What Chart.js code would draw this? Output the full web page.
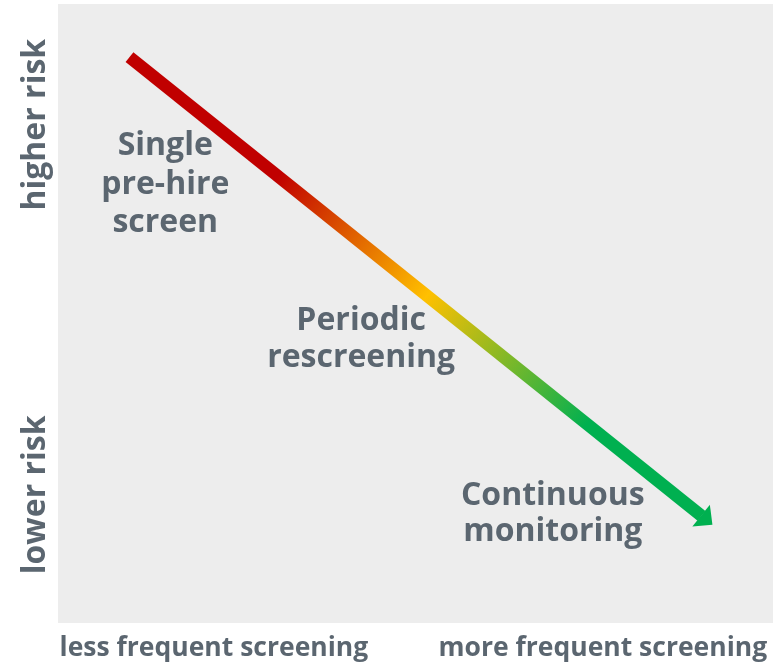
<!DOCTYPE html>
<html>
<head>
<meta charset="utf-8">
<script src="https://cdn.jsdelivr.net/npm/chart.js@4/dist/chart.umd.min.js"></script>
<style>
  html, body { margin: 0; padding: 0; background: #ffffff; }
  #wrap { width: 773px; height: 663px; }
</style>
</head>
<body>
<div id="wrap"><canvas id="c" width="773" height="663"></canvas></div>
<script>
// ---- data ----
const riskX = [1.0, 9.0];          // screening frequency (start, arrow base)
const riskY = [9.14, 1.73];        // risk level
const stageNames = [['Single', 'pre-hire', 'screen'], ['Periodic', 'rescreening'], ['Continuous', 'monitoring']];
const stageX = [1.50, 4.24, 6.92];
const stageY = [7.56, 4.73, 1.91];
const xAxisLabels = ['less frequent screening', 'more frequent screening'];
const xAxisLabelAt = [2.18, 7.62];
const yAxisLabels = ['higher risk', 'lower risk'];
const yAxisLabelAt = [8.05, 2.07];

const TEXT = '#5b6670';
const FONT = '"Open Sans", "DejaVu Sans", sans-serif';
const WEIGHT = 'bold';

function gradientFor(chart) {
  const xs = chart.scales.x, ys = chart.scales.y;
  if (!xs || !ys || !chart.chartArea) return '#c00000';
  const x0 = xs.getPixelForValue(riskX[0]), y0 = ys.getPixelForValue(riskY[0]);
  const x1 = xs.getPixelForValue(riskX[riskX.length - 1]), y1 = ys.getPixelForValue(riskY[riskY.length - 1]);
  const g = chart.ctx.createLinearGradient(x0, y0, x1, y1);
  g.addColorStop(0, '#c00000');
  g.addColorStop(0.26, '#c00000');
  g.addColorStop(0.52, '#ffc000');
  g.addColorStop(0.80, '#00b050');
  g.addColorStop(1, '#00b050');
  return g;
}

const bgPlugin = {
  id: 'bg',
  beforeDraw(chart) {
    const { ctx, chartArea: a } = chart;
    ctx.save();
    ctx.fillStyle = '#ededed';
    ctx.fillRect(a.left, a.top, a.right - a.left, a.bottom - a.top);
    ctx.restore();
  }
};

const arrowPlugin = {
  id: 'arrowHead',
  afterDatasetsDraw(chart) {
    const meta = chart.getDatasetMeta(0);
    const pts = meta.data;
    const p0 = pts[pts.length - 2], p1 = pts[pts.length - 1];
    const dx = p1.x - p0.x, dy = p1.y - p0.y;
    const len = Math.hypot(dx, dy);
    const ux = dx / len, uy = dy / len;
    const nx = -uy, ny = ux;
    const headLen = 14, headHalf = 14;
    const ctx = chart.ctx;
    ctx.save();
    ctx.fillStyle = '#00b050';
    ctx.beginPath();
    ctx.moveTo(p1.x + ux * headLen, p1.y + uy * headLen);
    ctx.lineTo(p1.x + nx * headHalf - ux * 0.5, p1.y + ny * headHalf - uy * 0.5);
    ctx.lineTo(p1.x - nx * headHalf - ux * 0.5, p1.y - ny * headHalf - uy * 0.5);
    ctx.closePath();
    ctx.fill();
    ctx.restore();
  }
};

const textPlugin = {
  id: 'texts',
  afterDraw(chart) {
    const { ctx, chartArea: a } = chart;
    const xs = chart.scales.x, ys = chart.scales.y;
    ctx.save();
    ctx.fillStyle = TEXT;
    // stage labels
    ctx.font = WEIGHT + ' 32px ' + FONT;
    ctx.textAlign = 'center';
    ctx.textBaseline = 'alphabetic';
    const lh = [38.5, 37, 36];
    stageNames.forEach((lines, i) => {
      const cx = xs.getPixelForValue(stageX[i]);
      const by = ys.getPixelForValue(stageY[i]);
      lines.forEach((t, j) => ctx.fillText(t, cx, by + j * lh[i]));
    });
    // x axis labels
    ctx.font = WEIGHT + ' 26.5px ' + FONT;
    xAxisLabels.forEach((t, i) => {
      ctx.fillText(t, xs.getPixelForValue(xAxisLabelAt[i]), a.bottom + 33);
    });
    // y axis labels
    ctx.font = WEIGHT + ' 32px ' + FONT;
    yAxisLabels.forEach((t, i) => {
      ctx.save();
      ctx.translate(a.left - 13, ys.getPixelForValue(yAxisLabelAt[i]));
      ctx.rotate(-Math.PI / 2);
      ctx.fillText(t, 0, 0);
      ctx.restore();
    });
    ctx.restore();
  }
};

function build() {
  new Chart(document.getElementById('c'), {
    type: 'scatter',
    data: {
      datasets: [{
        data: riskX.map((x, i) => ({ x, y: riskY[i] })),
        showLine: true,
        borderWidth: 12.5,
        borderCapStyle: 'butt',
        borderColor: (c) => gradientFor(c.chart),
        pointRadius: 0,
        pointHoverRadius: 0,
        fill: false
      }]
    },
    options: {
      responsive: false,
      animation: false,
      events: [],
      layout: { padding: { left: 58, top: 4, right: 0, bottom: 40 } },
      plugins: { legend: { display: false }, tooltip: { enabled: false } },
      scales: {
        x: { type: 'linear', min: 0, max: 10, display: false },
        y: { type: 'linear', min: 0, max: 10, display: false }
      }
    },
    plugins: [bgPlugin, arrowPlugin, textPlugin]
  });
}

if (document.fonts && document.fonts.load) {
  Promise.all([
    document.fonts.load('bold 32px "Open Sans"'),
    document.fonts.load('bold 26.5px "Open Sans"')
  ]).then(build, build);
} else {
  build();
}
</script>
</body>
</html>
